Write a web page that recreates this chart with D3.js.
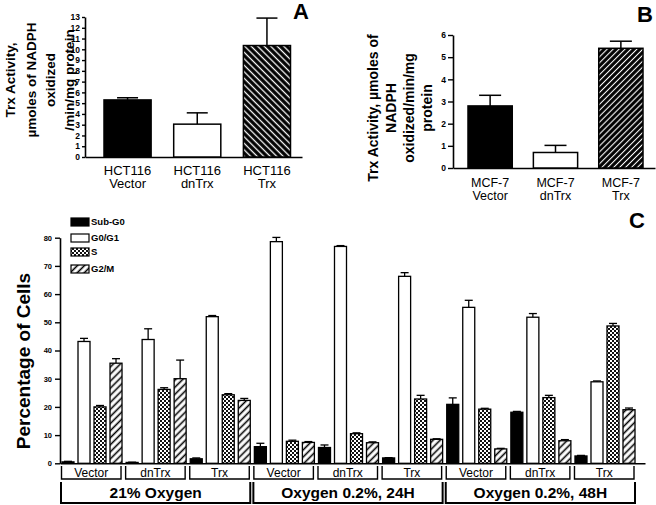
<!DOCTYPE html>
<html><head><meta charset="utf-8">
<script src="https://cdn.jsdelivr.net/npm/d3@7"></script>
<style>
body{margin:0;background:#fff}
svg{display:block}
text{font-family:"Liberation Sans",Arial,sans-serif;fill:#000}
</style>
</head><body>
<svg id="chart" width="656" height="505"></svg>
<script>
// ---------- Panel A data ----------
const aLine1 = ["HCT116", "HCT116", "HCT116"];
const aLine2 = ["Vector", "dnTrx", "Trx"];
const aValues = [5.3, 3.05, 10.35];
const aErrors = [0.2, 1.05, 2.55];
const aTicks = [0,1,2,3,4,5,6,7,8,9,10,11,12,13];
const aYLabel = ["Trx Activity,", "µmoles of NADPH", "oxidized", "/min/mg protein"];

// ---------- Panel B data ----------
const bLine1 = ["MCF-7", "MCF-7", "MCF-7"];
const bLine2 = ["Vector", "dnTrx", "Trx"];
const bValues = [2.8, 0.7, 5.4];
const bErrors = [0.48, 0.32, 0.32];
const bTicks = [0,1,2,3,4,5,6];
const bYLabel = ["Trx Activity, µmoles of", "NADPH", "oxidized/min/mg", "protein"];

// ---------- Panel C data ----------
const conditions = ["21% Oxygen", "Oxygen 0.2%, 24H", "Oxygen 0.2%, 48H"];
const cellLines = ["Vector", "dnTrx", "Trx"];
const phases = ["Sub-G0", "G0/G1", "S", "G2/M"];
const subG0 = [0.5, 0.3, 1.6, 5.9, 5.6, 1.9, 20.9, 18.1, 2.6];
const g0g1  = [43.2, 43.9, 52.0, 78.6, 76.9, 66.3, 55.3, 51.8, 28.9];
const sPhase = [20.0, 26.2, 24.3, 7.8, 10.5, 22.8, 19.2, 23.3, 48.7];
const g2m   = [35.5, 30.0, 22.3, 7.4, 7.3, 8.5, 5.1, 8.0, 19.0];
const subG0Err = [0.2, 0.1, 0.3, 1.2, 0.9, 0.1, 2.3, 0.3, 0.2];
const g0g1Err  = [1.1, 3.8, 0.4, 1.5, 0.3, 1.3, 2.5, 1.3, 0.3];
const sPhaseErr = [0.5, 0.6, 0.4, 0.4, 0.3, 1.3, 0.3, 0.8, 0.9];
const g2mErr   = [1.6, 6.6, 0.7, 0.3, 0.3, 0.2, 0.2, 0.4, 0.6];
const cTicks = [0,10,20,30,40,50,60,70,80];

const svg = d3.select("#chart");
const defs = svg.append("defs");

// patterns
function hatch(id, angle, spacing, bg, fg, lw) {
  const p = defs.append("pattern").attr("id", id).attr("patternUnits", "userSpaceOnUse")
    .attr("width", spacing).attr("height", spacing)
    .attr("patternTransform", `rotate(${angle})`);
  p.append("rect").attr("width", spacing).attr("height", spacing).attr("fill", bg);
  p.append("line").attr("x1", spacing/2).attr("x2", spacing/2).attr("y1", -1).attr("y2", spacing+1)
    .attr("stroke", fg).attr("stroke-width", lw);
}
hatch("hatchA", -45, 4.6, "#000", "#fff", 1.3);
hatch("hatchB", 45, 4.2, "#000", "#fff", 1.1);
hatch("hatchC", 45, 5, "#fff", "#000", 1.6);
const chk = defs.append("pattern").attr("id", "checker").attr("patternUnits", "userSpaceOnUse")
  .attr("width", 4).attr("height", 4);
chk.append("rect").attr("width", 4).attr("height", 4).attr("fill", "#fff");
chk.append("rect").attr("width", 2).attr("height", 2).attr("fill", "#111");
chk.append("rect").attr("x", 2).attr("y", 2).attr("width", 2).attr("height", 2).attr("fill", "#111");

function styleAxis(g, fs) {
  g.selectAll("path.domain").attr("stroke", "#000").attr("stroke-width", 1.6);
  g.selectAll(".tick line").attr("stroke", "#000").attr("stroke-width", 1.4);
  g.selectAll(".tick text").attr("font-family", '"Liberation Sans",Arial,sans-serif')
    .attr("font-size", fs).attr("font-weight", "bold").attr("fill", "#000");
}

function rotLabel(lines, cxs, cy, fs) {
  lines.forEach((t, i) => {
    svg.append("text").attr("transform", `translate(${cxs[i]},${cy}) rotate(-90)`)
      .attr("text-anchor", "middle").attr("dy", "0.35em")
      .attr("font-size", fs).attr("font-weight", "bold").text(t);
  });
}

function simplePanel(cfg) {
  const y = d3.scaleLinear().domain([0, cfg.ticks[cfg.ticks.length-1]]).range(cfg.yRange);
  const x = d3.scaleBand().domain(cfg.cats).range(cfg.xRange).paddingInner(cfg.pad);
  const gy = svg.append("g").attr("transform", `translate(${cfg.axisX},0)`)
    .call(d3.axisLeft(y).tickValues(cfg.ticks).tickFormat(d3.format("d"))
      .tickSize(cfg.tickLen).tickSizeOuter(0).tickPadding(2));
  styleAxis(gy, cfg.tickFs);
  const xs = d3.scaleLinear().range([cfg.axisX, cfg.axisEnd]);
  const gx = svg.append("g").attr("transform", `translate(0,${cfg.yRange[0]})`)
    .call(d3.axisBottom(xs).tickValues([]).tickSizeOuter(0));
  styleAxis(gx, cfg.tickFs);
  const bw = x.bandwidth();
  // error bars
  cfg.cats.forEach((c, i) => {
    const cx = x(c) + bw/2;
    svg.append("line").attr("x1", cx).attr("x2", cx)
      .attr("y1", y(cfg.values[i])).attr("y2", y(cfg.values[i] + cfg.errors[i]))
      .attr("stroke", "#000").attr("stroke-width", 1.5);
    svg.append("line").attr("x1", cx - cfg.cap/2).attr("x2", cx + cfg.cap/2)
      .attr("y1", y(cfg.values[i] + cfg.errors[i])).attr("y2", y(cfg.values[i] + cfg.errors[i]))
      .attr("stroke", "#000").attr("stroke-width", 1.5);
  });
  svg.append("g").selectAll("rect").data(cfg.values).join("rect")
    .attr("x", (d, i) => x(cfg.cats[i])).attr("width", bw)
    .attr("y", d => y(d)).attr("height", d => y(0) - y(d))
    .attr("fill", (d, i) => cfg.fills[i]).attr("stroke", "#000").attr("stroke-width", 1.5);
  cfg.cats.forEach((c, i) => {
    const cx = x(c) + bw/2;
    svg.append("text").attr("x", cx).attr("y", cfg.lab1Y).attr("text-anchor", "middle")
      .attr("font-size", cfg.labFs).text(cfg.line1[i]);
    svg.append("text").attr("x", cx).attr("y", cfg.lab2Y).attr("text-anchor", "middle")
      .attr("font-size", cfg.labFs).text(cfg.line2[i]);
  });
}

// Panel A
simplePanel({
  cats: aLine2, line1: aLine1, line2: aLine2, values: aValues, errors: aErrors, ticks: aTicks,
  yRange: [157, 17], xRange: [104, 290.5], pad: 0.324, axisX: 85, axisEnd: 302,
  tickLen: 3, tickFs: 8.5, cap: 21, fills: ["#000", "#fff", "url(#hatchA)"],
  lab1Y: 174.5, lab2Y: 188, labFs: 13
});
rotLabel(aYLabel, [10, 31, 50, 69], 80, 13.5);
svg.append("text").attr("x", 293).attr("y", 19).attr("font-size", 22).attr("font-weight", "bold").text("A");

// Panel B
simplePanel({
  cats: bLine2, line1: bLine1, line2: bLine2, values: bValues, errors: bErrors, ticks: bTicks,
  yRange: [168, 35], xRange: [468, 643], pad: 0.323, axisX: 453, axisEnd: 655,
  tickLen: 5, tickFs: 8.5, cap: 22, fills: ["#000", "#fff", "url(#hatchB)"],
  lab1Y: 186.5, lab2Y: 200, labFs: 12.5
});
rotLabel(bYLabel, [373, 391, 409, 427], 108, 14);
svg.append("text").attr("x", 637).attr("y", 22).attr("font-size", 22).attr("font-weight", "bold").text("B");

// Panel C
const groups = [];
conditions.forEach(c => cellLines.forEach(l => groups.push(c + "|" + l)));
const series = [subG0, g0g1, sPhase, g2m];
const seriesErr = [subG0Err, g0g1Err, sPhaseErr, g2mErr];
const phaseFill = ["#000", "#fff", "url(#checker)", "url(#hatchC)"];
const yC = d3.scaleLinear().domain([0, 80]).range([463.3, 237.7]);
const x0 = d3.scaleBand().domain(groups).range([62, 635]).paddingInner(0.064);
const x1 = d3.scaleBand().domain(phases).range([0, x0.bandwidth()]).paddingInner(0.25);

const gyC = svg.append("g").attr("transform", "translate(60,0)")
  .call(d3.axisLeft(yC).tickValues(cTicks).tickFormat(d3.format("d"))
    .tickSize(5).tickSizeOuter(0).tickPadding(3));
styleAxis(gyC, 7.5);
const xsC = d3.scaleLinear().range([60, 645]);
const gxC = svg.append("g").attr("transform", `translate(0,${yC(0)})`)
  .call(d3.axisBottom(xsC).tickValues([]).tickSizeOuter(0));
styleAxis(gxC, 7.5);

const barData = [];
groups.forEach((g, gi) => phases.forEach((p, pi) => {
  barData.push({g, p, pi, v: series[pi][gi], e: seriesErr[pi][gi]});
}));
const bwC = x1.bandwidth();
barData.forEach(d => {
  const cx = x0(d.g) + x1(d.p) + bwC/2;
  svg.append("line").attr("x1", cx).attr("x2", cx).attr("y1", yC(d.v)).attr("y2", yC(d.v + d.e))
    .attr("stroke", "#000").attr("stroke-width", 1.3);
  svg.append("line").attr("x1", cx - 4).attr("x2", cx + 4).attr("y1", yC(d.v + d.e)).attr("y2", yC(d.v + d.e))
    .attr("stroke", "#000").attr("stroke-width", 1.3);
});
svg.append("g").selectAll("rect").data(barData).join("rect")
  .attr("x", d => x0(d.g) + x1(d.p)).attr("width", bwC)
  .attr("y", d => yC(d.v)).attr("height", d => yC(0) - yC(d.v))
  .attr("fill", d => phaseFill[d.pi]).attr("stroke", "#000").attr("stroke-width", 1.3);

// sub-group brackets
groups.forEach((g, gi) => {
  const xa = x0(g) - 0.5, xb = x0(g) + x0.bandwidth() - 1;
  svg.append("path").attr("d", `M${xa},466 V479 H${xb} V466`).attr("fill", "none")
    .attr("stroke", "#000").attr("stroke-width", 1.4);
  svg.append("text").attr("x", (xa + xb)/2).attr("y", 476.5).attr("text-anchor", "middle")
    .attr("font-size", 12).text(cellLines[gi % 3]);
});
// condition brackets
conditions.forEach((c, ci) => {
  const xa = x0(c + "|" + cellLines[0]) - 1;
  const xb = x0(c + "|" + cellLines[2]) + x0.bandwidth();
  svg.append("path").attr("d", `M${xa},482 V503 H${xb} V482`).attr("fill", "none")
    .attr("stroke", "#000").attr("stroke-width", 2);
  svg.append("text").attr("x", (xa + xb)/2).attr("y", 497.5).attr("text-anchor", "middle")
    .attr("font-size", 15.5).attr("font-weight", "bold").text(c);
});

// legend
const legY = [222, 238, 252, 269];
phases.forEach((p, i) => {
  svg.append("rect").attr("x", 71).attr("y", legY[i] - 4).attr("width", 18).attr("height", 8)
    .attr("fill", phaseFill[i]).attr("stroke", "#000").attr("stroke-width", 1.2);
  svg.append("text").attr("x", 91).attr("y", legY[i]).attr("dy", "0.35em")
    .attr("font-size", 9.5).attr("font-weight", "bold").text(p);
});

rotLabel(["Percentage of Cells"], [23], 361, 19);
svg.append("text").attr("x", 629).attr("y", 228).attr("font-size", 22).attr("font-weight", "bold").text("C");
</script>
</body></html>
